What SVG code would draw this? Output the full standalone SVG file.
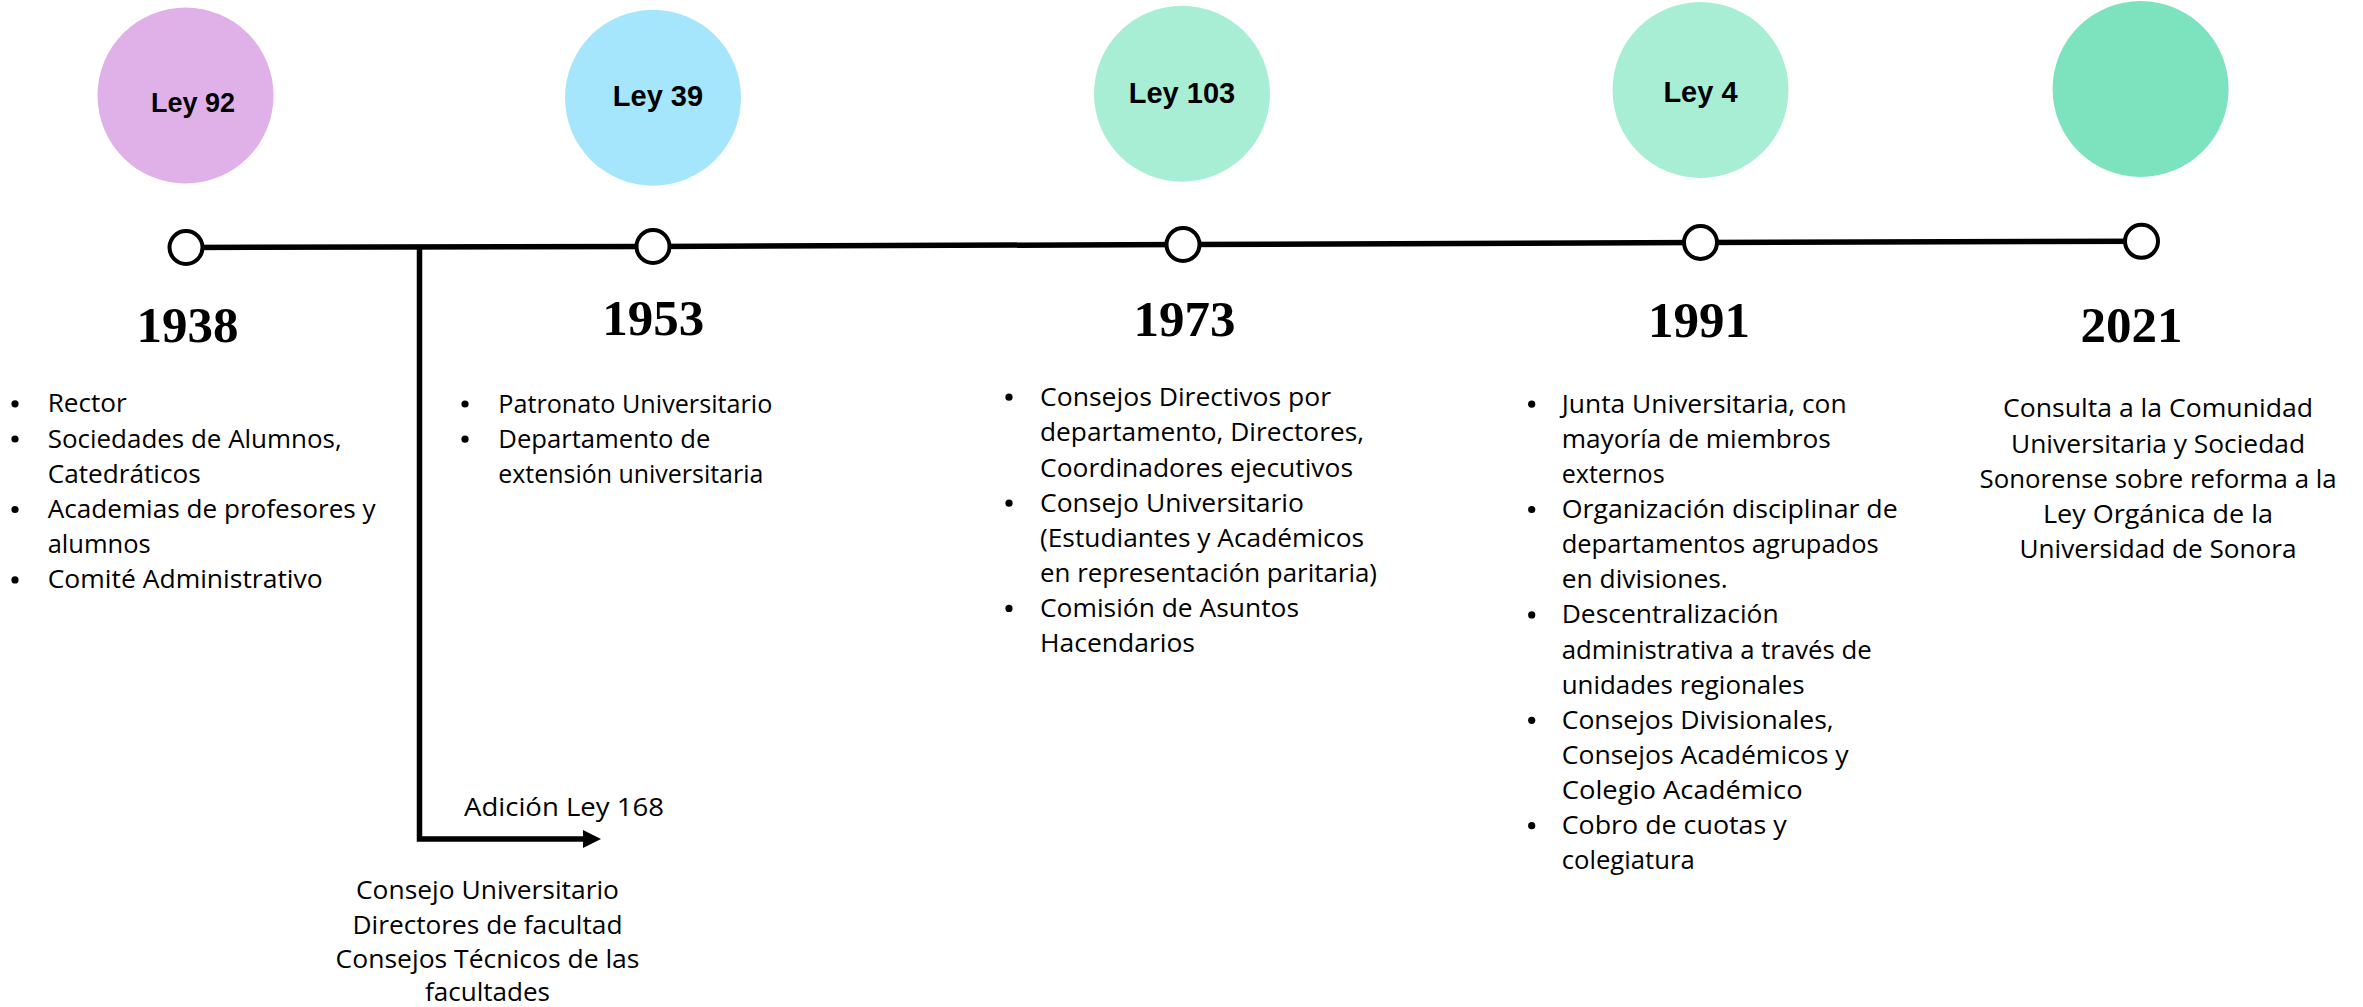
<svg xmlns="http://www.w3.org/2000/svg" width="2363" height="1007" viewBox="0 0 2363 1007">
<style>
.ley{font-family:"Liberation Sans",Arial,sans-serif;font-weight:bold;fill:#000;text-anchor:middle}
.year{font-family:"Liberation Serif","Times New Roman",serif;font-weight:bold;font-size:51px;fill:#000;text-anchor:middle}
.body{font-family:"Open Sans",Lato,sans-serif;font-size:26px;fill:#000}
.mid{text-anchor:middle}
.bul{fill:#000}
.dot{fill:#fff;stroke:#000;stroke-width:4}
.conn{fill:none;stroke:#000;stroke-width:5.5}
</style>
<defs>
<marker id="arrow" markerUnits="userSpaceOnUse" markerWidth="20" markerHeight="20" refX="0" refY="9" orient="auto">
<path d="M0,0 L18,9 L0,18 Z" fill="#000"/>
</marker>
</defs>
<rect width="2363" height="1007" fill="#fff"/>

<g id="connectors">
<polyline class="conn" points="186,247.5 653,246.5 1183,244.5 1700.5,242.5 2141.5,241.3"/>
<polyline class="conn" points="419.5,247 419.5,839 583,839" marker-end="url(#arrow)"/>
</g>

<g id="ley92">
<circle cx="185.5" cy="95.5" r="88" fill="#E0B1E9"/>
<text class="ley" x="193" y="111.7" font-size="27">Ley 92</text>
</g>
<g id="ley39">
<circle cx="653" cy="97.7" r="88" fill="#A5E6FC"/>
<text class="ley" x="658" y="106" font-size="29">Ley 39</text>
</g>
<g id="ley103">
<circle cx="1182" cy="93.7" r="88" fill="#A8EED4"/>
<text class="ley" x="1182" y="102.7" font-size="29">Ley 103</text>
</g>
<g id="ley4">
<circle cx="1700.5" cy="90" r="88" fill="#A8EED4"/>
<text class="ley" x="1700.5" y="101.7" font-size="29">Ley 4</text>
</g>
<g id="circle2021">
<circle cx="2140.6" cy="89" r="88" fill="#7DE3BE"/>
</g>

<g id="y1938">
<circle class="dot" cx="186" cy="247.5" r="16.5"/>
<text class="year" x="187.5" y="341.7">1938</text>
<g class="bul">
<circle cx="15" cy="403.8" r="3.6"/>
<circle cx="15" cy="439" r="3.6"/>
<circle cx="15" cy="509.5" r="3.6"/>
<circle cx="15" cy="579.9" r="3.6"/>
</g>
<g class="body">
<text x="47.7" y="412.3" textLength="79" lengthAdjust="spacingAndGlyphs">Rector</text>
<text x="47.7" y="447.5" textLength="294" lengthAdjust="spacingAndGlyphs">Sociedades de Alumnos,</text>
<text x="47.7" y="482.7" textLength="153" lengthAdjust="spacingAndGlyphs">Catedráticos</text>
<text x="47.7" y="518" textLength="328" lengthAdjust="spacingAndGlyphs">Academias de profesores y</text>
<text x="47.7" y="553.2" textLength="103" lengthAdjust="spacingAndGlyphs">alumnos</text>
<text x="47.7" y="588.4" textLength="275" lengthAdjust="spacingAndGlyphs">Comité Administrativo</text>
</g>
</g>

<g id="adicion168">
<g class="body">
<text x="464" y="816" textLength="200" lengthAdjust="spacingAndGlyphs">Adición Ley 168</text>
<text x="487.5" y="899" class="mid" textLength="263" lengthAdjust="spacingAndGlyphs">Consejo Universitario</text>
<text x="487.5" y="933.5" class="mid" textLength="270" lengthAdjust="spacingAndGlyphs">Directores de facultad</text>
<text x="487.5" y="967.5" class="mid" textLength="304" lengthAdjust="spacingAndGlyphs">Consejos Técnicos de las</text>
<text x="487.5" y="1000.5" class="mid" textLength="125" lengthAdjust="spacingAndGlyphs">facultades</text>
</g>
</g>

<g id="y1953">
<circle class="dot" cx="653" cy="246.5" r="16.5"/>
<text class="year" x="653.3" y="335">1953</text>
<g class="bul">
<circle cx="465" cy="404" r="3.6"/>
<circle cx="465" cy="439.2" r="3.6"/>
</g>
<g class="body">
<text x="498.3" y="412.5" textLength="274" lengthAdjust="spacingAndGlyphs">Patronato Universitario</text>
<text x="498.3" y="447.7" textLength="212" lengthAdjust="spacingAndGlyphs">Departamento de</text>
<text x="498.3" y="482.9" textLength="265" lengthAdjust="spacingAndGlyphs">extensión universitaria</text>
</g>
</g>

<g id="y1973">
<circle class="dot" cx="1183" cy="244.5" r="16.5"/>
<text class="year" x="1184.5" y="336">1973</text>
<g class="bul">
<circle cx="1009" cy="397.2" r="3.6"/>
<circle cx="1009" cy="503.2" r="3.6"/>
<circle cx="1009" cy="608.4" r="3.6"/>
</g>
<g class="body">
<text x="1040" y="405.7" textLength="291" lengthAdjust="spacingAndGlyphs">Consejos Directivos por</text>
<text x="1040" y="441" textLength="324" lengthAdjust="spacingAndGlyphs">departamento, Directores,</text>
<text x="1040" y="476.5" textLength="313" lengthAdjust="spacingAndGlyphs">Coordinadores ejecutivos</text>
<text x="1040" y="511.7" textLength="264" lengthAdjust="spacingAndGlyphs">Consejo Universitario</text>
<text x="1040" y="546.7" textLength="324" lengthAdjust="spacingAndGlyphs">(Estudiantes y Académicos</text>
<text x="1040" y="581.7" textLength="337" lengthAdjust="spacingAndGlyphs">en representación paritaria)</text>
<text x="1040" y="616.9" textLength="259" lengthAdjust="spacingAndGlyphs">Comisión de Asuntos</text>
<text x="1040" y="652" textLength="155" lengthAdjust="spacingAndGlyphs">Hacendarios</text>
</g>
</g>

<g id="y1991">
<circle class="dot" cx="1700.5" cy="242.5" r="16.5"/>
<text class="year" x="1699" y="336.7">1991</text>
<g class="bul">
<circle cx="1531.7" cy="404.2" r="3.6"/>
<circle cx="1531.7" cy="509.5" r="3.6"/>
<circle cx="1531.7" cy="614.9" r="3.6"/>
<circle cx="1531.7" cy="720.3" r="3.6"/>
<circle cx="1531.7" cy="825.7" r="3.6"/>
</g>
<g class="body">
<text x="1561.7" y="412.7" textLength="285" lengthAdjust="spacingAndGlyphs">Junta Universitaria, con</text>
<text x="1561.7" y="447.8" textLength="269" lengthAdjust="spacingAndGlyphs">mayoría de miembros</text>
<text x="1561.7" y="482.9" textLength="103" lengthAdjust="spacingAndGlyphs">externos</text>
<text x="1561.7" y="518" textLength="336" lengthAdjust="spacingAndGlyphs">Organización disciplinar de</text>
<text x="1561.7" y="553" textLength="317" lengthAdjust="spacingAndGlyphs">departamentos agrupados</text>
<text x="1561.7" y="588.2" textLength="166" lengthAdjust="spacingAndGlyphs">en divisiones.</text>
<text x="1561.7" y="623.4" textLength="217" lengthAdjust="spacingAndGlyphs">Descentralización</text>
<text x="1561.7" y="658.5" textLength="310" lengthAdjust="spacingAndGlyphs">administrativa a través de</text>
<text x="1561.7" y="693.6" textLength="243" lengthAdjust="spacingAndGlyphs">unidades regionales</text>
<text x="1561.7" y="728.8" textLength="272" lengthAdjust="spacingAndGlyphs">Consejos Divisionales,</text>
<text x="1561.7" y="763.9" textLength="287" lengthAdjust="spacingAndGlyphs">Consejos Académicos y</text>
<text x="1561.7" y="799" textLength="241" lengthAdjust="spacingAndGlyphs">Colegio Académico</text>
<text x="1561.7" y="834.2" textLength="225" lengthAdjust="spacingAndGlyphs">Cobro de cuotas y</text>
<text x="1561.7" y="869.3" textLength="133" lengthAdjust="spacingAndGlyphs">colegiatura</text>
</g>
</g>

<g id="y2021">
<circle class="dot" cx="2141.5" cy="241.3" r="16.5"/>
<text class="year" x="2131.6" y="341.7">2021</text>
<g class="body">
<text x="2158" y="417.3" class="mid" textLength="310" lengthAdjust="spacingAndGlyphs">Consulta a la Comunidad</text>
<text x="2158" y="452.5" class="mid" textLength="294" lengthAdjust="spacingAndGlyphs">Universitaria y Sociedad</text>
<text x="2158" y="487.5" class="mid" textLength="357" lengthAdjust="spacingAndGlyphs">Sonorense sobre reforma a la</text>
<text x="2158" y="522.5" class="mid" textLength="230" lengthAdjust="spacingAndGlyphs">Ley Orgánica de la</text>
<text x="2158" y="557.5" class="mid" textLength="277" lengthAdjust="spacingAndGlyphs">Universidad de Sonora</text>
</g>
</g>
</svg>
